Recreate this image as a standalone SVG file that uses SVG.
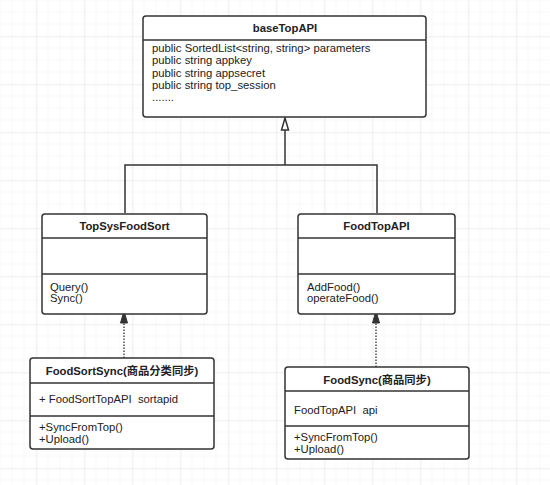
<svg xmlns="http://www.w3.org/2000/svg" width="550" height="485" viewBox="0 0 550 485">
<defs>
<pattern id="minor" width="12" height="12" patternUnits="userSpaceOnUse">
<path d="M12 0V12M0 12H12" fill="none" stroke="#f1f1f1" stroke-width="1"/>
</pattern>
<pattern id="major" x="36.5" y="36.5" width="48" height="48" patternUnits="userSpaceOnUse">
<rect width="48" height="48" fill="url(#minor)"/>
<path d="M0 0V48M0 0H48" fill="none" stroke="#e3e3e3" stroke-width="1"/>
</pattern>
<marker id="hollow" markerWidth="14" markerHeight="10" refX="13" refY="5" orient="auto" markerUnits="userSpaceOnUse" viewBox="0 0 14 10">
<path d="M13 5 L1 1.5 L1 8.5 Z" fill="#fff" stroke="#333" stroke-width="1.5"/>
</marker>
<marker id="filled" markerWidth="14" markerHeight="10" refX="13" refY="5" orient="auto" markerUnits="userSpaceOnUse" viewBox="0 0 14 10">
<path d="M13 5 L1 1.5 L1 8.5 Z" fill="#333" stroke="#333" stroke-width="1"/>
</marker>
</defs>
<style>
.box{fill:#fff;stroke:#333;stroke-width:1.5}
.sep{stroke:#333;stroke-width:1.5}
.t{font-family:"Liberation Sans","Noto Sans CJK SC",sans-serif;font-size:11.3px;fill:#222;white-space:pre}
.h{font-weight:bold;text-anchor:middle}
.edge{fill:none;stroke:#333;stroke-width:1.5}
.dash{fill:none;stroke:#333;stroke-width:1.3;stroke-dasharray:1.5 1.5}
</style>
<rect width="550" height="485" fill="#fff"/>
<rect width="550" height="485" fill="url(#major)"/>

<g id="connectors">
<path class="edge" d="M125 213V165H377V213"/>
<path class="edge" d="M285 165V118" stroke-width="2" marker-end="url(#hollow)"/>
<path class="dash" d="M124 358V311" marker-end="url(#filled)"/>
<path class="dash" d="M376 367V311" marker-end="url(#filled)"/>
</g>

<g id="baseTopAPI">
<rect class="box" x="143" y="16" width="283" height="101" rx="3"/>
<line class="sep" x1="143" y1="40" x2="426" y2="40"/>
<text class="t h" x="285" y="32">baseTopAPI</text>
<text class="t" x="152" y="52">public SortedList&lt;string, string&gt; parameters</text>
<text class="t" x="152" y="64">public string appkey</text>
<text class="t" x="152" y="77">public string appsecret</text>
<text class="t" x="152" y="89">public string top_session</text>
<text class="t" x="152" y="101">.......</text>
</g>

<g id="TopSysFoodSort">
<rect class="box" x="42" y="214" width="165" height="100" rx="3"/>
<line class="sep" x1="42" y1="238" x2="207" y2="238"/>
<line class="sep" x1="42" y1="274" x2="207" y2="274"/>
<text class="t h" x="124.5" y="230">TopSysFoodSort</text>
<text class="t" x="50" y="291">Query()</text>
<text class="t" x="50" y="302">Sync()</text>
</g>

<g id="FoodTopAPI">
<rect class="box" x="298" y="214" width="157" height="100" rx="3"/>
<line class="sep" x1="298" y1="238" x2="455" y2="238"/>
<line class="sep" x1="298" y1="274" x2="455" y2="274"/>
<text class="t h" x="376.5" y="230">FoodTopAPI</text>
<text class="t" x="307" y="291">AddFood()</text>
<text class="t" x="307" y="302">operateFood()</text>
</g>

<g id="FoodSortSync">
<rect class="box" x="30" y="358" width="184" height="91" rx="3"/>
<line class="sep" x1="30" y1="383" x2="214" y2="383"/>
<line class="sep" x1="30" y1="416" x2="214" y2="416"/>
<text class="t h" x="122" y="375">FoodSortSync(商品分类同步)</text>
<text class="t" x="39" y="403">+ FoodSortTopAPI  sortapid</text>
<text class="t" x="39" y="431">+SyncFromTop()</text>
<text class="t" x="39" y="443">+Upload()</text>
</g>

<g id="FoodSync">
<rect class="box" x="285" y="367" width="184" height="92" rx="3"/>
<line class="sep" x1="285" y1="391" x2="469" y2="391"/>
<line class="sep" x1="285" y1="426" x2="469" y2="426"/>
<text class="t h" x="377" y="384">FoodSync(商品同步)</text>
<text class="t" x="294" y="414">FoodTopAPI  api</text>
<text class="t" x="294" y="441">+SyncFromTop()</text>
<text class="t" x="294" y="453">+Upload()</text>
</g>
</svg>
